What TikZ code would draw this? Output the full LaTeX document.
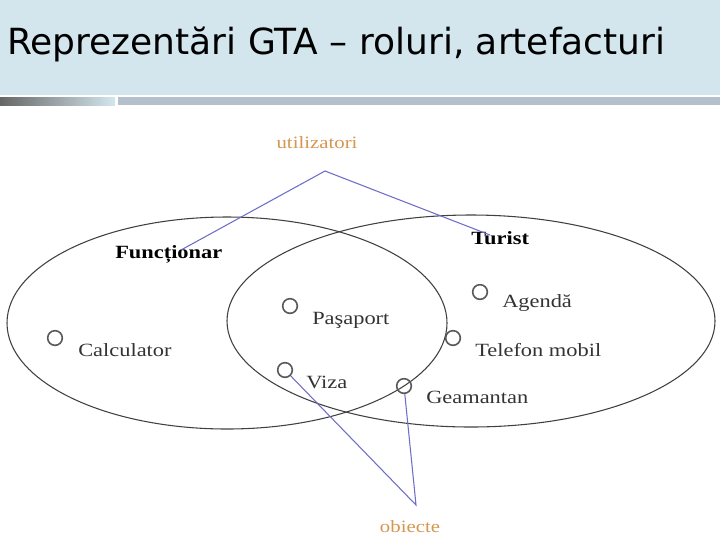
\documentclass[tikz,border=0pt]{standalone}
\usepackage{fontspec}
\setmainfont[FakeStretch=1.2]{Liberation Serif}
\newfontfamily\titlefont{DejaVu Sans}
\definecolor{headbg}{RGB}{211,230,238}
\definecolor{barcol}{RGB}{180,192,204}
\definecolor{linkcol}{RGB}{110,110,200}
\definecolor{groupcol}{RGB}{215,150,80}
\tikzset{
  item/.style={circle,draw=black!65,very thick,inner sep=0pt,minimum size=11pt},
  lbl/.style={anchor=west,inner sep=0pt,font=\fontsize{14}{16}\selectfont,text=black!80},
  role/.style={anchor=west,inner sep=0pt,font=\fontsize{14}{16}\selectfont\bfseries},
  group/.style={inner sep=0pt,font=\fontsize{13}{15}\selectfont,text=groupcol},
  link/.style={linkcol,thick}
}
\begin{document}
\begin{tikzpicture}[x=0.75pt,y=-0.75pt]
  \useasboundingbox (0,0) rectangle (720,540);
  % header
  \fill[headbg] (0,0) rectangle (720,95);
  \shade[left color=black!60,right color=headbg] (0,97) rectangle (115,105);
  \fill[barcol] (118,97) rectangle (720,105);
  \node[anchor=west,inner sep=0pt,font=\titlefont\fontsize{27}{32}\selectfont] (title) at (7,44) {Reprezentări GTA – roluri, artefacturi};
  % sets
  \draw[black!75,thick] (227,323) ellipse [x radius=220,y radius=106];
  \draw[black!75,thick] (471,321) ellipse [x radius=244,y radius=106];
  \node[role] (func) at (115,254) {Funcționar};
  \node[role] (tur) at (471,238) {Turist};
  % items
  \node[item] (c1) at (55,338) {};
  \node[item] (c2) at (290,306) {};
  \node[item] (c3) at (480,292) {};
  \node[item] (c4) at (453,338) {};
  \node[item] (c5) at (285,370) {};
  \node[item] (c6) at (404,386) {};
  \node[lbl] (calc) at (78,350) {Calculator};
  \node[lbl] (pas) at (312,320) {Paşaport};
  \node[lbl] (ag) at (502,303) {Agendă};
  \node[lbl] (tel) at (475,350) {Telefon mobil};
  \node[lbl] (viza) at (306,382) {Viza};
  \node[lbl] (gea) at (426,397) {Geamantan};
  % groups
  \node[group] (util) at (317,143) {utilizatori};
  \coordinate (u) at (325,171);
  \node[group] (obj) at (410,527) {obiecte};
  \coordinate (o) at (416,505);
  \coordinate (f) at (181,250);
  \coordinate (t) at (490,235);
  \draw[link] (f) -- (u) -- (t);
  \draw[link] (c5) -- (o) -- (c6);
\end{tikzpicture}
\end{document}
